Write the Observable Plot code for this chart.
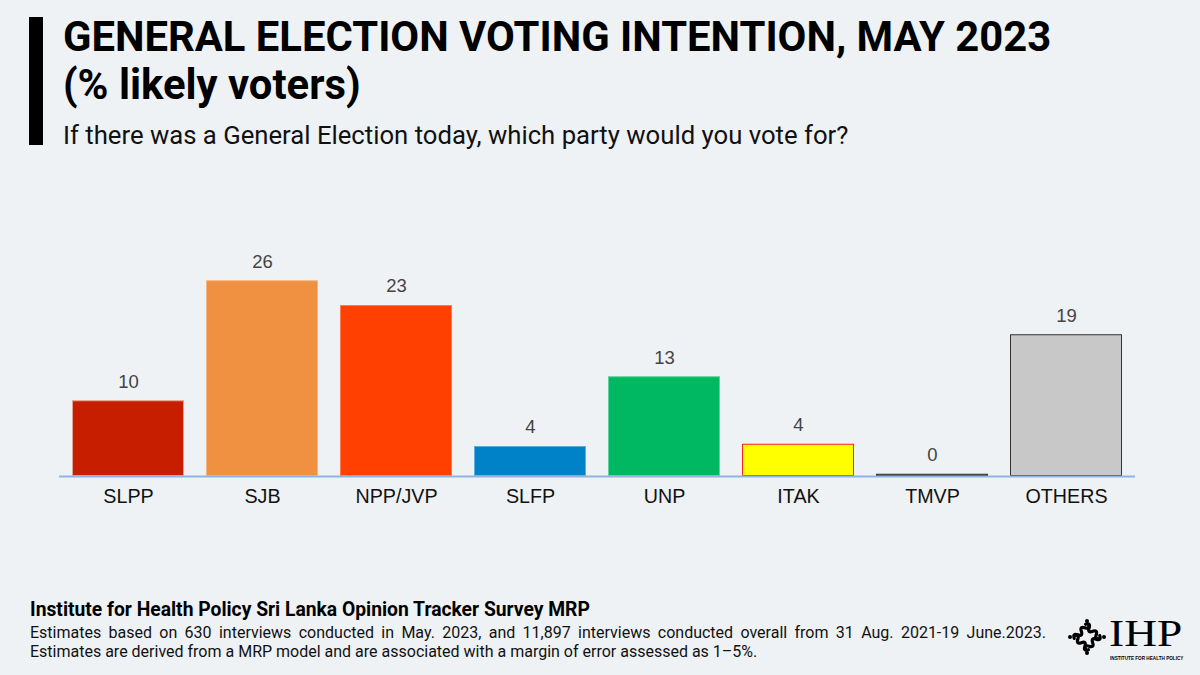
<!DOCTYPE html>
<html>
<head>
<meta charset="utf-8">
<script src="https://cdn.jsdelivr.net/npm/d3@7"></script>
<script src="https://cdn.jsdelivr.net/npm/@observablehq/plot@0.6"></script>
<style>
  html, body { margin: 0; padding: 0; }
  body { width: 1200px; height: 675px; background: #eef2f5; position: relative; overflow: hidden; font-family: Roboto, "Liberation Sans", sans-serif; }
  #bar { position: absolute; left: 29px; top: 17px; width: 14px; height: 128px; background: #000; }
  #title { position: absolute; left: 63px; top: 13px; font-weight: 700; font-size: 41.8px; line-height: 48px; color: #000; white-space: nowrap; }
  #subtitle { position: absolute; left: 63px; top: 119px; font-size: 25.7px; line-height: 32px; color: #111; white-space: nowrap; }
  #chart { position: absolute; left: 0; top: 160px; }
  #src { position: absolute; left: 30px; top: 599px; font-weight: 700; font-size: 19.3px; line-height: 22px; color: #000; white-space: nowrap; }
  #note1 { position: absolute; left: 30px; top: 623px; width: 1016px; font-size: 16px; line-height: 19px; color: #111; text-align: justify; text-align-last: justify; }
  #note2 { position: absolute; left: 30px; top: 642px; font-size: 16px; line-height: 19px; color: #111; white-space: nowrap; }
  #ihp { position: absolute; left: 1109px; top: 621px; font-family: "Liberation Serif", serif; font-size: 38.5px; line-height: 25px; height: 25px; color: #000; transform: scaleX(1.18); transform-origin: left center; white-space: nowrap; }
  #ihpsub { position: absolute; left: 1110px; top: 655px; font-family: "Liberation Sans", sans-serif; font-weight: 700; font-size: 5.6px; line-height: 6px; color: #000; transform: scaleX(0.83); transform-origin: left center; white-space: nowrap; }
  #sym { position: absolute; left: 1066px; top: 617px; }
</style>
</head>
<body>
<div id="bar"></div>
<div id="title">GENERAL ELECTION VOTING INTENTION, MAY 2023<br>(% likely voters)</div>
<div id="subtitle">If there was a General Election today, which party would you vote for?</div>
<div id="chart"></div>
<div id="src">Institute for Health Policy Sri Lanka Opinion Tracker Survey MRP</div>
<div id="note1">Estimates based on 630 interviews conducted in May. 2023, and 11,897 interviews conducted overall from 31 Aug. 2021-19 June.2023.</div>
<div id="note2">Estimates are derived from a MRP model and are associated with a margin of error assessed as 1&#8211;5%.</div>
<svg id="sym" width="42" height="40" viewBox="0 0 42 40">
  <g fill="none" stroke="#000" stroke-width="3.2" stroke-linecap="round">
    <g transform="translate(21,20) rotate(-45) translate(0,-8)">
      <path d="M-10,0 q2.5,-5 5,0 q2.5,5 5,0 q2.5,-5 5,0 q2.5,5 5,0"/>
    </g>
    <g transform="translate(21,20) rotate(45) translate(0,-8)">
      <path d="M-10,0 q2.5,-5 5,0 q2.5,5 5,0 q2.5,-5 5,0 q2.5,5 5,0"/>
    </g>
    <g transform="translate(21,20) rotate(135) translate(0,-8)">
      <path d="M-10,0 q2.5,-5 5,0 q2.5,5 5,0 q2.5,-5 5,0 q2.5,5 5,0"/>
    </g>
    <g transform="translate(21,20) rotate(-135) translate(0,-8)">
      <path d="M-10,0 q2.5,-5 5,0 q2.5,5 5,0 q2.5,-5 5,0 q2.5,5 5,0"/>
    </g>
  </g>
  <g fill="#000">
    <circle cx="21" cy="4" r="2"/><circle cx="21" cy="36" r="2"/><circle cx="4" cy="20" r="2"/><circle cx="38" cy="20" r="2"/>
  </g>
</svg>
<div id="ihp">IHP</div>
<div id="ihpsub">INSTITUTE FOR HEALTH POLICY</div>
<script>
const parties = ["SLPP", "SJB", "NPP/JVP", "SLFP", "UNP", "ITAK", "TMVP", "OTHERS"];
const shares = [10.1, 26.1, 22.8, 4.0, 13.3, 4.3, 0.3, 18.9];
const fills = ["#c81e00", "#f09142", "#ff4000", "#0082c8", "#00b862", "#ffff00", "#6b6b2e", "#c8c8c8"];
const strokes = ["#e8a090", "#f5b57e", "#ff7a50", "#5aaee0", "#5ad49a", "#ff2020", "#333333", "#333333"];

const data = parties.map((p, i) => ({party: p, share: shares[i], fill: fills[i], stroke: strokes[i]}));

const chart = Plot.plot({
  width: 1200,
  height: 360,
  marginLeft: 59,
  marginRight: 65,
  marginTop: 91,
  marginBottom: 44,
  style: {background: "transparent", overflow: "visible"},
  x: {domain: parties, paddingInner: 0.167, paddingOuter: 0.08, label: null, tickSize: 0},
  y: {domain: [0, 30], axis: null},
  marks: [
    Plot.barY(data, {x: "party", y: "share", fill: d => d.fill, stroke: d => d.stroke, strokeWidth: 1, inset: 0.5}),
    Plot.ruleY([0], {stroke: "#8fb4e0", strokeWidth: 2}),
    Plot.text(data, {x: "party", y: "share", text: d => d3.format(".0f")(d.share), dy: -19, fontSize: 18.5, fill: "#444", fontFamily: "Liberation Sans, Arial, sans-serif"}),
    Plot.axisX({tickSize: 0, tickPadding: 12, fontSize: 19.7, fill: "#111", fontFamily: "Liberation Sans, Arial, sans-serif", label: null})
  ]
});
document.getElementById("chart").appendChild(chart);
</script>
</body>
</html>
